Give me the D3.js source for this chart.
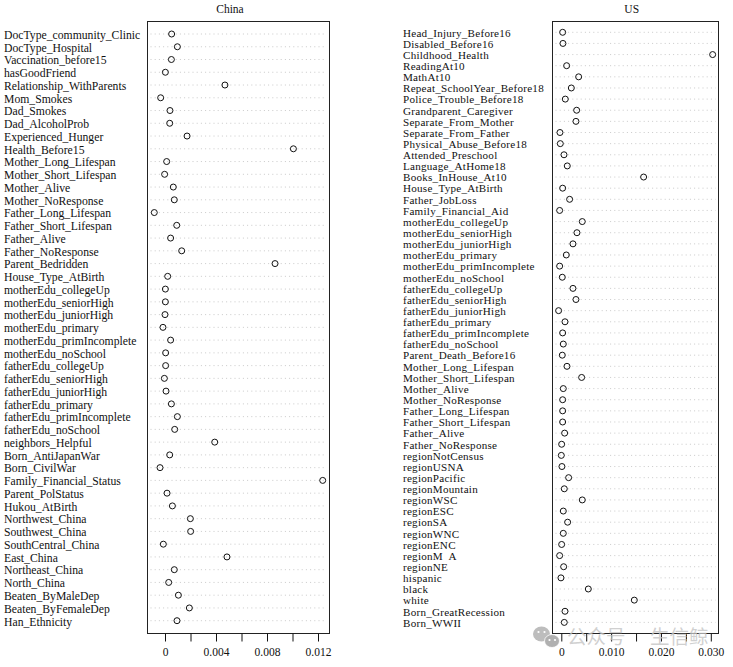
<!DOCTYPE html>
<html>
<head>
<meta charset="utf-8">
<script src="https://cdn.jsdelivr.net/npm/d3@7/dist/d3.min.js"></script>
<style>
html,body{margin:0;padding:0;background:#fff;}
svg{display:block;}
text{font-family:"Liberation Serif",serif;fill:#111;}
</style>
</head>
<body>
<svg id="chart" width="733" height="667"></svg>
<script>
const chinaLabels = ["DocType_community_Clinic","DocType_Hospital","Vaccination_before15","hasGoodFriend","Relationship_WithParents","Mom_Smokes","Dad_Smokes","Dad_AlcoholProb","Experienced_Hunger","Health_Before15","Mother_Long_Lifespan","Mother_Short_Lifespan","Mother_Alive","Mother_NoResponse","Father_Long_Lifespan","Father_Short_Lifespan","Father_Alive","Father_NoResponse","Parent_Bedridden","House_Type_AtBirth","motherEdu_collegeUp","motherEdu_seniorHigh","motherEdu_juniorHigh","motherEdu_primary","motherEdu_primIncomplete","motherEdu_noSchool","fatherEdu_collegeUp","fatherEdu_seniorHigh","fatherEdu_juniorHigh","fatherEdu_primary","fatherEdu_primIncomplete","fatherEdu_noSchool","neighbors_Helpful","Born_AntiJapanWar","Born_CivilWar","Family_Financial_Status","Parent_PolStatus","Hukou_AtBirth","Northwest_China","Southwest_China","SouthCentral_China","East_China","Northeast_China","North_China","Beaten_ByMaleDep","Beaten_ByFemaleDep","Han_Ethnicity"];
const chinaValues = [0.00052,0.00097,0.0005,0.00003,0.0047,-0.00034,0.00039,0.00037,0.00173,0.01007,0.00013,-0.00003,0.00065,0.00073,-0.00084,0.00092,0.00044,0.00131,0.00863,0.00021,0.00003,0.00003,0,-0.00016,0.00044,0.00005,0.00005,-0.00005,0.00008,0.0005,0.00097,0.00076,0.0039,0.00037,-0.00039,0.01237,0.00016,0.00058,0.00199,0.00201,-0.00013,0.00486,0.00073,0.00029,0.00105,0.00191,0.00094];
const chinaTicks = [0,0.002,0.004,0.006,0.008,0.01,0.012];
const chinaTickLabels = ["0","","0.004","","0.008","","0.012"];

const usLabels = ["Head_Injury_Before16","Disabled_Before16","Childhood_Health","ReadingAt10","MathAt10","Repeat_SchoolYear_Before18","Police_Trouble_Before18","Grandparent_Caregiver","Separate_From_Mother","Separate_From_Father","Physical_Abuse_Before18","Attended_Preschool","Language_AtHome18","Books_InHouse_At10","House_Type_AtBirth","Father_JobLoss","Family_Financial_Aid","motherEdu_collegeUp","motherEdu_seniorHigh","motherEdu_juniorHigh","motherEdu_primary","motherEdu_primIncomplete","motherEdu_noSchool","fatherEdu_collegeUp","fatherEdu_seniorHigh","fatherEdu_juniorHigh","fatherEdu_primary","fatherEdu_primIncomplete","fatherEdu_noSchool","Parent_Death_Before16","Mother_Long_Lifespan","Mother_Short_Lifespan","Mother_Alive","Mother_NoResponse","Father_Long_Lifespan","Father_Short_Lifespan","Father_Alive","Father_NoResponse","regionNotCensus","regionUSNA","regionPacific","regionMountain","regionWSC","regionESC","regionSA","regionWNC","regionENC","regionM  A","regionNE","hispanic","black","white","Born_GreatRecession","Born_WWII"];
const usValues = [0.00027,0.00033,0.03037,0.00107,0.00348,0.00201,0.0008,0.00308,0.00294,-0.00027,-0.0002,0.00054,0.0012,0.01652,0.00027,0.00167,-0.00033,0.00421,0.00314,0.00234,0.001,-0.00033,0.0002,0.00234,0.00294,-0.00054,0.00074,0.00027,0.0004,0.0002,0.00114,0.00408,0.0004,0.00027,0.00027,0.00027,0.00067,0.00007,0,0.00013,0.00147,0.0006,0.00421,0.0004,0.00127,0.0004,0.00007,-0.00033,0.00047,-0.00007,0.00542,0.01465,0.00074,0.0006];
const usTicks = [0,0.005,0.01,0.015,0.02,0.025,0.03];
const usTickLabels = ["0","","0.010","","0.020","","0.030"];

const svg = d3.select("#chart");
const boxTop = 21.5, boxBottom = 633.5;

function panel(cfg) {
  const g = svg.append("g");
  const x = d3.scaleLinear().domain(cfg.xDomain).range(cfg.xRange);
  const y = d3.scalePoint().domain(d3.range(cfg.labels.length)).range(cfg.yRange);

  g.append("text").attr("x", cfg.titleX).attr("y", 13).attr("text-anchor", "middle")
    .attr("font-size", 11.5).text(cfg.title);

  g.selectAll("line.grid").data(cfg.labels).join("line").attr("class", "grid")
    .attr("x1", cfg.box[0] + 3).attr("x2", cfg.box[1] - 3)
    .attr("y1", (d, i) => y(i)).attr("y2", (d, i) => y(i))
    .attr("stroke", "#bdbdbd").attr("stroke-width", 0.8).attr("stroke-dasharray", "1 3.2");

  g.selectAll("text.lab").data(cfg.labels).join("text").attr("class", "lab")
    .attr("x", cfg.labelX).attr("y", (d, i) => y(i) + cfg.labelDy)
    .attr("font-size", cfg.fontSize).style("letter-spacing", cfg.spacing + "px")
    .attr("xml:space", "preserve")
    .style("white-space", "pre").text(d => d);

  g.selectAll("circle.pt").data(cfg.values).join("circle").attr("class", "pt")
    .attr("cx", d => x(d)).attr("cy", (d, i) => y(i)).attr("r", 3)
    .attr("fill", "none").attr("stroke", "#111").attr("stroke-width", 1);

  g.append("rect").attr("x", cfg.box[0]).attr("y", boxTop)
    .attr("width", cfg.box[1] - cfg.box[0]).attr("height", boxBottom - boxTop)
    .attr("fill", "none").attr("stroke", "#222").attr("stroke-width", 1);

  const axis = d3.axisBottom(x).tickValues(cfg.ticks)
    .tickFormat((d, i) => cfg.tickLabels[i]).tickSize(8).tickPadding(6);
  const ax = g.append("g").attr("transform", `translate(0,${boxBottom})`).call(axis);
  ax.select(".domain").remove();
  ax.selectAll("line").attr("stroke", "#111");
  ax.selectAll("text").attr("font-size", 11.5).style("font-family", '"Liberation Serif",serif').attr("fill", "#222");
}

panel({title:"China", titleX:230, labels:chinaLabels, values:chinaValues, ticks:chinaTicks, tickLabels:chinaTickLabels,
  xDomain:[0,0.012], xRange:[165,318], yRange:[34,620.7], box:[147.5,329.5], labelX:4, labelDy:4.8, fontSize:11.7, spacing:0});
panel({title:"US", titleX:631.7, labels:usLabels, values:usValues, ticks:usTicks, tickLabels:usTickLabels,
  xDomain:[0,0.03], xRange:[561.3,710.8], yRange:[32.3,622.4], box:[552.5,718.5], labelX:403, labelDy:4.3, fontSize:11.1, spacing:0.25});

// watermark
const wm = svg.append("g");
wm.append("ellipse").attr("cx",541.5).attr("cy",634).attr("rx",8.5).attr("ry",7.5).attr("fill","#bdbdbd");
wm.append("ellipse").attr("cx",552).attr("cy",641).attr("rx",7.5).attr("ry",6.5).attr("fill","#b0b0b0").attr("stroke","#fff").attr("stroke-width",0.8);
[[538.5,632],[544.5,632],[549.5,640],[555,640]].forEach(p=>wm.append("circle").attr("cx",p[0]).attr("cy",p[1]).attr("r",1.1).attr("fill","#fff"));
wm.append("text").attr("x",567).attr("y",644).attr("font-size",19.5).style("font-family",'"Noto Sans CJK SC"').style("fill","#c4c4c4").attr("fill-opacity",0.8).text("公众号");
wm.append("text").attr("x",650).attr("y",644).attr("font-size",19.5).style("font-family",'"Noto Sans CJK SC"').style("fill","#c4c4c4").attr("fill-opacity",0.8).text("生信鲸");
</script>
</body>
</html>
